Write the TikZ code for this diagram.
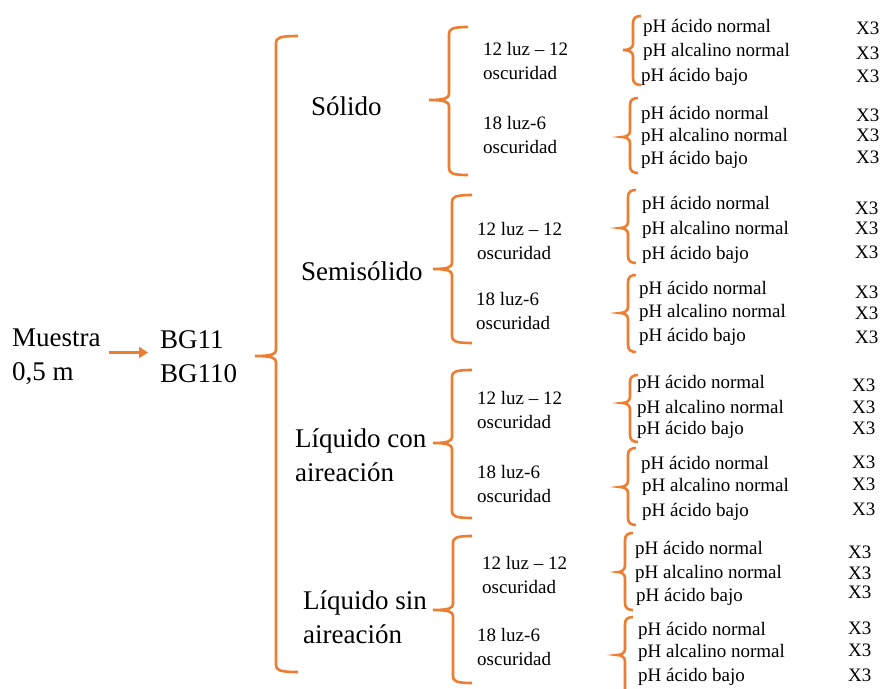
\documentclass[tikz,border=0pt]{standalone}
\usepackage{fontspec}
\setmainfont{Liberation Serif}
\usetikzlibrary{arrows.meta}
\definecolor{brorange}{HTML}{ED7D31}
\tikzset{
  brline/.style={draw=brorange, line width=2.6pt},
  big/.style={font=\fontsize{27}{34}\selectfont, inner sep=0pt, anchor=west, align=left},
  small/.style={font=\fontsize{19}{24}\selectfont, inner sep=0pt, anchor=west, align=left},
  arr/.style={draw=brorange, line width=2.6pt, -{Triangle[length=9pt,width=11pt]}}
}
% xv, top, tipy, bottom, tipx, hook
\newcommand\obr[6]{%
  \draw[brline] ({#1+#6},#2) .. controls ({#1+3},#2) and (#1,{#2+2}) .. (#1,{#2+7})
    -- (#1,{#3-6}) .. controls (#1,{#3-2}) and ({#1-4},#3) .. (#5,#3)
    .. controls ({#1-4},#3) and (#1,{#3+2}) .. (#1,{#3+6})
    -- (#1,{#4-7}) .. controls (#1,{#4-2}) and ({#1+3},#4) .. ({#1+#6},#4);}
\begin{document}
\begin{tikzpicture}[x=1pt,y=-1pt]
\useasboundingbox[fill=white] (0,0) rectangle (882,688);

% level 0
\node[big] (m) at (12,356.5) {Muestra\\0,5 m};
\node[big] (bg) at (160,356.5) {BG11\\BG110};
\draw[arr, shorten <=8pt, shorten >=12pt] ([yshift=4pt]m.east) -- ([yshift=4pt]bg.west);

% level 1 brace
\obr{276}{36}{356}{672}{255}{22}

% level 2 labels
\node[big] (sol) at (311,106) {Sólido};
\node[big] (semi) at (301,271) {Semisólido};
\node[big] (lcon) at (295,455) {Líquido con\\aireación};
\node[big] (lsin) at (303,617) {Líquido sin\\aireación};

% level 2 braces
\obr{449}{27}{100}{175}{429}{19}
\obr{452}{195}{269}{343}{433}{20}
\obr{452}{370}{443}{518}{433}{20}
\obr{453}{536}{610}{683}{433}{19}

% level 3 labels
\node[small] (a1) at (483,60.5) {12 luz – 12\\oscuridad};
\node[small] (b1) at (483,134.5) {18 luz-6\\oscuridad};
\node[small] (a2) at (477,240.5) {12 luz – 12\\oscuridad};
\node[small] (b2) at (476,311) {18 luz-6\\oscuridad};
\node[small] (a3) at (477,409.5) {12 luz – 12\\oscuridad};
\node[small] (b3) at (477,483.5) {18 luz-6\\oscuridad};
\node[small] (a4) at (482,575) {12 luz – 12\\oscuridad};
\node[small] (b4) at (477,647) {18 luz-6\\oscuridad};

% level 3 braces
\obr{633}{16}{50}{85}{623}{8}
\obr{630}{98}{137}{173}{622}{8}
\obr{628}{190}{228}{263}{620}{8}
\obr{628}{275}{313}{352}{620}{8}
\obr{630}{375}{403}{442}{622}{8}
\obr{628}{448}{487}{525}{620}{8}
\obr{625}{533}{572}{610}{618}{8}
\obr{625}{617}{655}{700}{617}{8}

% pH rows
\foreach \x/\y/\t [count=\i] in {
  643/28/pH ácido normal, 643/52/pH alcalino normal, 641/77/pH ácido bajo,
  641/115/pH ácido normal, 641/137/pH alcalino normal, 641/160/pH ácido bajo,
  642/205/pH ácido normal, 642/230/pH alcalino normal, 642/255/pH ácido bajo,
  639/290/pH ácido normal, 639/313/pH alcalino normal, 639/337/pH ácido bajo,
  637/384/pH ácido normal, 637/409/pH alcalino normal, 637/430/pH ácido bajo,
  641/465/pH ácido normal, 642/487/pH alcalino normal, 642/512/pH ácido bajo,
  635/550/pH ácido normal, 635/574/pH alcalino normal, 636/597/pH ácido bajo,
  638/631/pH ácido normal, 638/653/pH alcalino normal, 638/677/pH ácido bajo}
  {\node[small] (ph\i) at (\x,\y) {\t};}

% X3 column
\foreach \x/\y [count=\i] in {
  856/28, 856/53, 856/76,
  856/115, 856/135, 856/157,
  855/208, 855/228, 855/252,
  855/292, 855/313, 855/337,
  852/385, 852/407, 852/428,
  852/462, 852/484, 852/509,
  848/552, 848/573, 848/592,
  848/628, 848/650, 848/675}
  {\node[small] (x\i) at (\x,\y) {X3};}
\end{tikzpicture}
\end{document}
